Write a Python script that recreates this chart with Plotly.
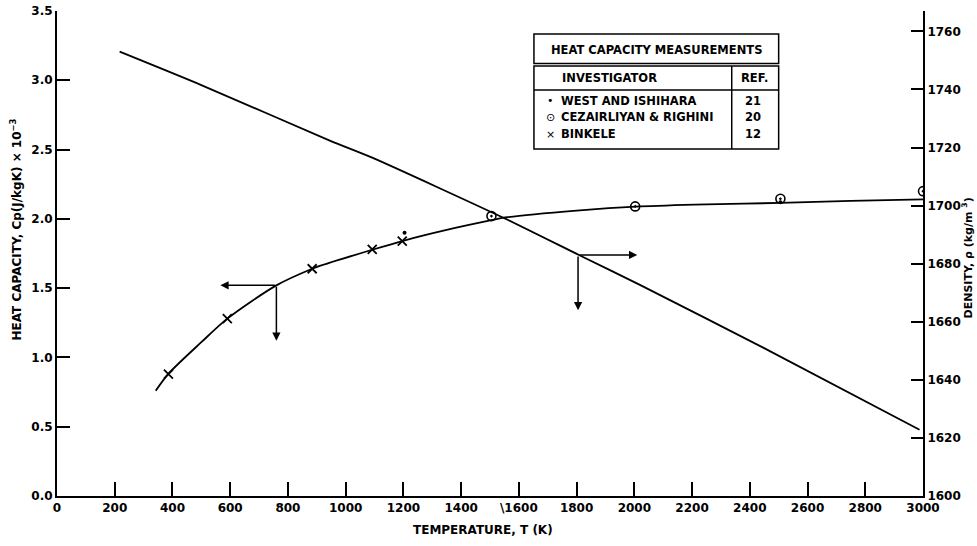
import plotly.graph_objects as go

# ---------------- data ----------------
# Heat capacity fitted curve (T in K, Cp in J/kgK x 1e-3)
cp_curve_T = [342, 385, 500, 590, 760, 884, 913, 1092, 1196, 1350, 1505, 1553, 1800, 2021, 2250, 2506, 2750, 3000]
cp_curve_v = [0.76, 0.88, 1.11, 1.28, 1.52, 1.64, 1.662, 1.777, 1.84, 1.92, 1.99, 2.01, 2.06, 2.09, 2.105, 2.115, 2.13, 2.14]

# Density curve (T in K, rho in kg/m^3)
rho_curve_T = [217, 500, 947, 1092, 1553, 1808, 2021, 2448, 2988]
rho_curve_v = [1753.0, 1741.5, 1722.3, 1716.5, 1695.5, 1683.0, 1672.6, 1651.0, 1622.8]

# Measurements
west_T = [1204, 2506]
west_cp = [1.90, 2.12]
cez_T = [1505, 2003, 2506, 3000]
cez_cp = [2.02, 2.09, 2.145, 2.20]
bink_T = [386, 590, 884, 1092, 1196]
bink_cp = [0.88, 1.28, 1.64, 1.78, 1.84]

x_ticks = [0, 200, 400, 600, 800, 1000, 1200, 1400, 1600, 1800, 2000, 2200, 2400, 2600, 2800, 3000]
x_ticktext = ["0", "200", "400", "600", "800", "1000", "1200", "1400", "\\1600", "1800", "2000",
              "2200", "2400", "2600", "2800", "3000"]
cp_ticks = [0.0, 0.5, 1.0, 1.5, 2.0, 2.5, 3.0, 3.5]
rho_ticks = [1600, 1620, 1640, 1660, 1680, 1700, 1720, 1740, 1760]

table_title = "HEAT CAPACITY MEASUREMENTS"
table_cols = ["INVESTIGATOR", "REF."]
table_names = ["WEST AND ISHIHARA", "CEZAIRLIYAN & RIGHINI", "BINKELE"]
table_refs = ["21", "20", "12"]

# ---------------- layout geometry ----------------
W, H = 977, 546
L, R, T, B = 56.5, 923.5, 11, 496  # plot area in pixels
FONT = "DejaVu Sans"


def px(xp):
    return (xp - L) / (R - L)


def py(yp):
    return (B - yp) / (B - T)


fig = go.Figure()

line_style = dict(color="black", width=1.8)
fig.add_trace(go.Scatter(x=cp_curve_T, y=cp_curve_v, mode="lines", line=dict(shape="spline", smoothing=0.8, **line_style),
                         showlegend=False, hoverinfo="skip"))
fig.add_trace(go.Scatter(x=rho_curve_T, y=rho_curve_v, mode="lines", yaxis="y2",
                         line=dict(shape="spline", smoothing=0.6, **line_style), showlegend=False, hoverinfo="skip"))
fig.add_trace(go.Scatter(x=west_T, y=west_cp, mode="markers", name="WEST AND ISHIHARA",
                         marker=dict(symbol="circle", size=4, color="black"), showlegend=False))
fig.add_trace(go.Scatter(x=cez_T, y=cez_cp, mode="markers", name="CEZAIRLIYAN & RIGHINI",
                         marker=dict(symbol="circle-open-dot", size=9, color="black", line=dict(width=1.6)),
                         showlegend=False))
fig.add_trace(go.Scatter(x=bink_T, y=bink_cp, mode="markers", name="BINKELE",
                         marker=dict(symbol="x-thin-open", size=9, color="black", line=dict(width=1.8)),
                         showlegend=False))

# arrows showing which axis each curve belongs to
arrows = [
    dict(x=566, y=1.52, ax=760, ay=1.52, yref="y", ayref="y"),
    dict(x=760, y=1.12, ax=760, ay=1.52, yref="y", ayref="y"),
    dict(x=2010, y=1683.0, ax=1805, ay=1683.0, yref="y2", ayref="y2"),
    dict(x=1805, y=1664.0, ax=1805, ay=1683.0, yref="y2", ayref="y2"),
]
for a in arrows:
    fig.add_annotation(xref="x", axref="x", text="", showarrow=True, arrowhead=2, arrowsize=1.1,
                       arrowwidth=1.5, arrowcolor="black", **a)

# ---------------- table (legend) ----------------
bx0, bx1 = 534, 779
shapes = [
    dict(type="rect", x0=px(bx0), x1=px(bx1), y0=py(63.5), y1=py(34)),
    dict(type="rect", x0=px(bx0), x1=px(bx1), y0=py(149), y1=py(66)),
    dict(type="line", x0=px(bx0), x1=px(bx1), y0=py(90), y1=py(90)),
    dict(type="line", x0=px(732), x1=px(732), y0=py(66), y1=py(149)),
]
for s in shapes:
    fig.add_shape(xref="paper", yref="paper", line=dict(color="black", width=1.5), **s)

tfont = dict(family=FONT, size=11.5, color="black", weight="bold")
fig.add_annotation(xref="paper", yref="paper", x=px((bx0 + bx1) / 2), y=py(49.5), text=table_title,
                   showarrow=False, font=tfont, xanchor="center", yanchor="middle")
fig.add_annotation(xref="paper", yref="paper", x=px(610), y=py(78), text=table_cols[0],
                   showarrow=False, font=tfont, xanchor="center", yanchor="middle")
fig.add_annotation(xref="paper", yref="paper", x=px(755), y=py(78), text=table_cols[1],
                   showarrow=False, font=tfont, xanchor="center", yanchor="middle")
row_y = [100.5, 117, 134]
sym_font = dict(family=FONT, size=11, color="black")
symbols = ["•", "⊙", "×"]
for i, (nm, rf) in enumerate(zip(table_names, table_refs)):
    fig.add_annotation(xref="paper", yref="paper", x=px(551), y=py(row_y[i]), text=symbols[i],
                       showarrow=False, font=sym_font, xanchor="center", yanchor="middle")
    fig.add_annotation(xref="paper", yref="paper", x=px(559), y=py(row_y[i]), text=nm,
                       showarrow=False, font=tfont, xanchor="left", yanchor="middle")
    fig.add_annotation(xref="paper", yref="paper", x=px(753), y=py(row_y[i]), text=rf,
                       showarrow=False, font=tfont, xanchor="center", yanchor="middle")

# ---------------- axis titles ----------------
afont = dict(family=FONT, size=12, color="black", weight="bold")
fig.add_annotation(xref="paper", yref="paper", x=px(483), y=py(530), text="TEMPERATURE, T (K)",
                   showarrow=False, font=afont, xanchor="center", yanchor="middle")
fig.add_annotation(xref="paper", yref="paper", x=px(15), y=py(230),
                   text="HEAT CAPACITY, Cp(J/kgK) × 10<sup>−3</sup>", textangle=-90,
                   showarrow=False, font=afont, xanchor="center", yanchor="middle")
fig.add_annotation(xref="paper", yref="paper", x=px(968), y=py(258),
                   text="DENSITY, ρ (kg/m <sup>3</sup>)", textangle=-90,
                   showarrow=False, font=dict(family=FONT, size=11, color="black", weight="bold"),
                   xanchor="center", yanchor="middle")

tickfont = dict(family=FONT, size=12, color="black", weight="bold")
fig.update_layout(
    width=W, height=H,
    margin=dict(l=L, r=W - R, t=T, b=H - B, autoexpand=False),
    plot_bgcolor="white", paper_bgcolor="white",
    showlegend=False,
    xaxis=dict(range=[0, 3000], tickvals=x_ticks, ticktext=x_ticktext, ticks="inside", ticklen=14,
               tickwidth=1.5, tickcolor="black", showline=True, linecolor="black", linewidth=2,
               showgrid=False, zeroline=False, tickfont=tickfont, automargin=False),
    yaxis=dict(range=[0, 3.5], tickvals=cp_ticks, tickformat=".1f", ticks="inside", ticklen=13,
               tickwidth=1.5, tickcolor="black", showline=True, linecolor="black", linewidth=2,
               showgrid=False, zeroline=False, tickfont=tickfont, automargin=False),
    yaxis2=dict(range=[1600, 1767], tickvals=rho_ticks, overlaying="y", side="right", ticks="inside",
                ticklen=12, tickwidth=1.5, tickcolor="black", showline=True, linecolor="black",
                linewidth=2, showgrid=False, zeroline=False, tickfont=tickfont, automargin=False,
                ticklabelstandoff=0),
)

fig.write_html("out.html", config={"displayModeBar": False},
               post_script="document.body.style.margin='0';document.body.style.overflow='hidden';")
